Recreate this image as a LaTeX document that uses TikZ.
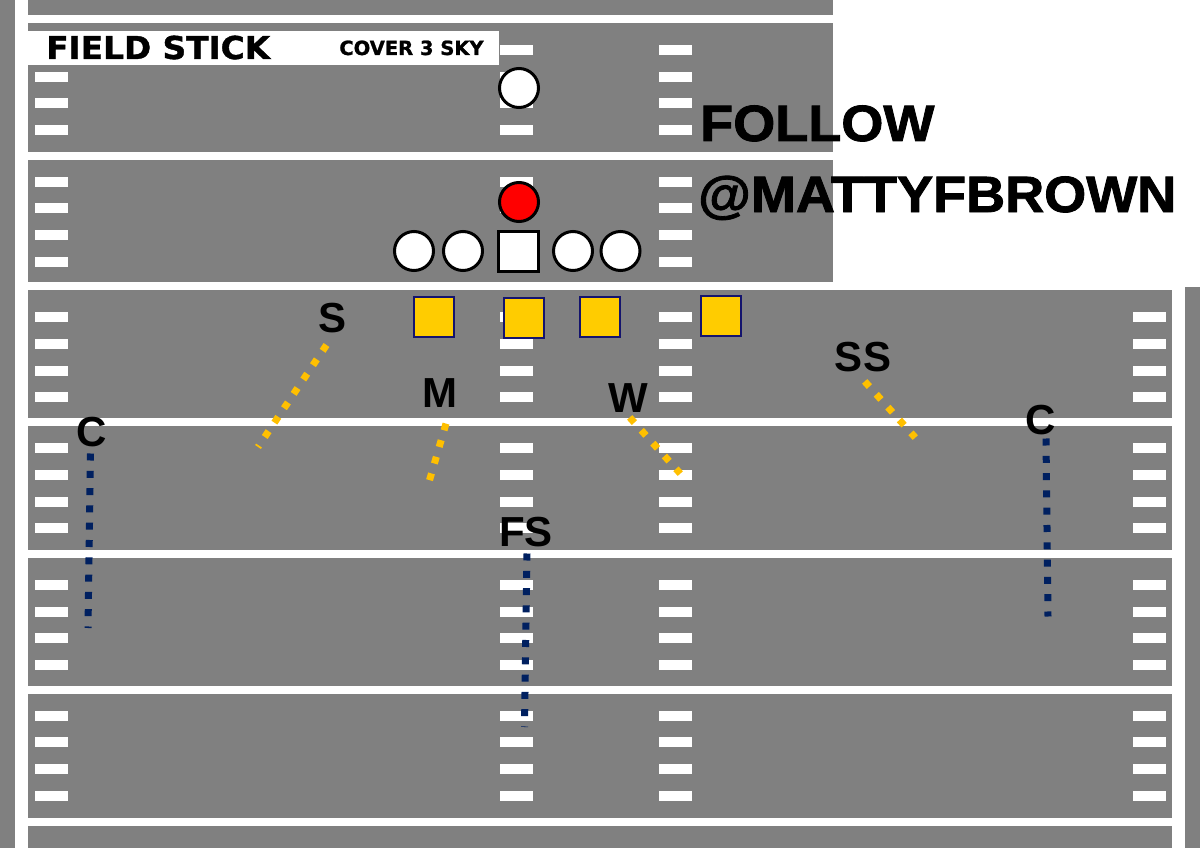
\documentclass[tikz,border=0pt]{standalone}
\usepackage{fontspec}
\setmainfont{Liberation Sans}
\newfontfamily\djv{DejaVu Sans}[BoldFeatures={FakeBold=1.2}]
\newfontfamily\heavyfont{Liberation Sans}[BoldFeatures={FakeBold=1.6}]
\definecolor{fieldgray}{RGB}{128,128,128}
\definecolor{zonegold}{RGB}{255,192,0}
\definecolor{sqgold}{RGB}{255,204,0}
\definecolor{zonenavy}{RGB}{0,32,96}
\definecolor{sqborder}{RGB}{20,20,110}
\begin{document}
\begin{tikzpicture}[x=1pt,y=-1pt,
  hashmark/.style={fill=white},
  offcirc/.style={circle,draw=black,line width=3pt,fill=white,minimum size=39pt,inner sep=0pt},
  ballcirc/.style={circle,draw=black,line width=3pt,fill=red,minimum size=39pt,inner sep=0pt},
  centersq/.style={rectangle,draw=black,line width=3pt,fill=white,minimum size=40pt,inner sep=0pt},
  defsq/.style={rectangle,draw=sqborder,line width=2pt,fill=sqgold,minimum size=40pt,inner sep=0pt},
  poslabel/.style={anchor=base,inner sep=0pt,font=\fontsize{42}{42}\selectfont\bfseries},
  goldzone/.style={draw=zonegold,line width=7pt,dash pattern=on 7pt off 10.3pt},
  navyzone/.style={draw=zonenavy,line width=7pt,dash pattern=on 7pt off 10.3pt},
  bigtext/.style={anchor=base west,inner sep=0pt,font=\heavyfont\fontsize{51}{51}\selectfont\bfseries}
]
\useasboundingbox (0,0) rectangle (1200,848);
% field
\fill[fieldgray] (0,0) rectangle (1200,848);
\fill[white] (15,0) rectangle (28,848);
\fill[white] (1172,287) rectangle (1185,848);
\foreach \y in {19,156,286,422,554,690,822}
  \fill[white] (28,\y-4.3) rectangle (1172,\y+4.3);
% hash marks
\foreach \y in {50,77,103,130,182,208,235,262,317,344,371,397,448,475,502,528,585,612,638,665,716,742,769,796}{
  \fill[hashmark] (35,\y-5) rectangle (68,\y+5);
  \fill[hashmark] (500,\y-5) rectangle (533,\y+5);
  \fill[hashmark] (659,\y-5) rectangle (692,\y+5);
}
\foreach \y in {317,344,371,397,448,475,502,528,585,612,638,665,716,742,769,796}
  \fill[hashmark] (1133,\y-5) rectangle (1166,\y+5);
% white overlay top right
\fill[white] (833,0) rectangle (1200,287);
% title box
\fill[white] (28,31) rectangle (499,65);
\node[anchor=base west,inner sep=0pt] (title) at (46,59) {\scalebox{1.04}[1]{\djv\fontsize{31.5}{32}\selectfont\bfseries FIELD STICK}};
\node[anchor=base,inner sep=0pt] (cover) at (411.5,55) {\djv\fontsize{19.5}{20}\selectfont\bfseries COVER 3 SKY};
\node[bigtext] (follow) at (700,141) {\scalebox{1.06}[1]{FOLLOW}};
\node[bigtext] (handle) at (698,212) {\scalebox{1.06}[1]{@MATTYFBROWN}};
% offense
\node[offcirc] (qb) at (519,88) {};
\node[ballcirc] (ball) at (519,202) {};
\node[offcirc] (lt) at (414,251) {};
\node[offcirc] (lg) at (463,251) {};
\node[centersq] (ctr) at (518.5,251) {};
\node[offcirc] (rg) at (573,251) {};
\node[offcirc] (rt) at (620.5,251) {};
% defense front
\node[defsq] (d1) at (433.5,317) {};
\node[defsq] (d2) at (523.5,318) {};
\node[defsq] (d3) at (600,317) {};
\node[defsq] (d4) at (721,316) {};
% labels
\node[poslabel] (lS) at (333,332) {S};
\node[poslabel] (lM) at (440,407) {M};
\node[poslabel] (lCl) at (92,446) {C};
\node[poslabel] (lFS) at (526,546) {FS};
\node[poslabel] (lW) at (628,412) {W};
\node[poslabel] (lSS) at (863,371) {SS};
\node[poslabel] (lCr) at (1041,434) {C};
% zone drop coordinates
\coordinate (sA) at (326.5,345);  \coordinate (sB) at (258,447);
\coordinate (mA) at (446,423.6);  \coordinate (mB) at (429,482);
\coordinate (wA) at (629.7,417.4);\coordinate (wB) at (680.3,473.6);
\coordinate (ssA) at (864.7,381.4);\coordinate (ssB) at (915.3,437.6);
\coordinate (clA) at (90.5,453.5);\coordinate (clB) at (88,628);
\coordinate (fsA) at (527,553.5); \coordinate (fsB) at (524.5,727);
\coordinate (crA) at (1046,438.5);\coordinate (crB) at (1048,616.5);
\draw[goldzone] (sA) -- (sB);
\draw[goldzone] (mA) -- (mB);
\draw[goldzone] (wA) -- (wB);
\draw[goldzone] (ssA) -- (ssB);
\draw[navyzone] (clA) -- (clB);
\draw[navyzone] (fsA) -- (fsB);
\draw[navyzone] (crA) -- (crB);
\end{tikzpicture}
\end{document}
